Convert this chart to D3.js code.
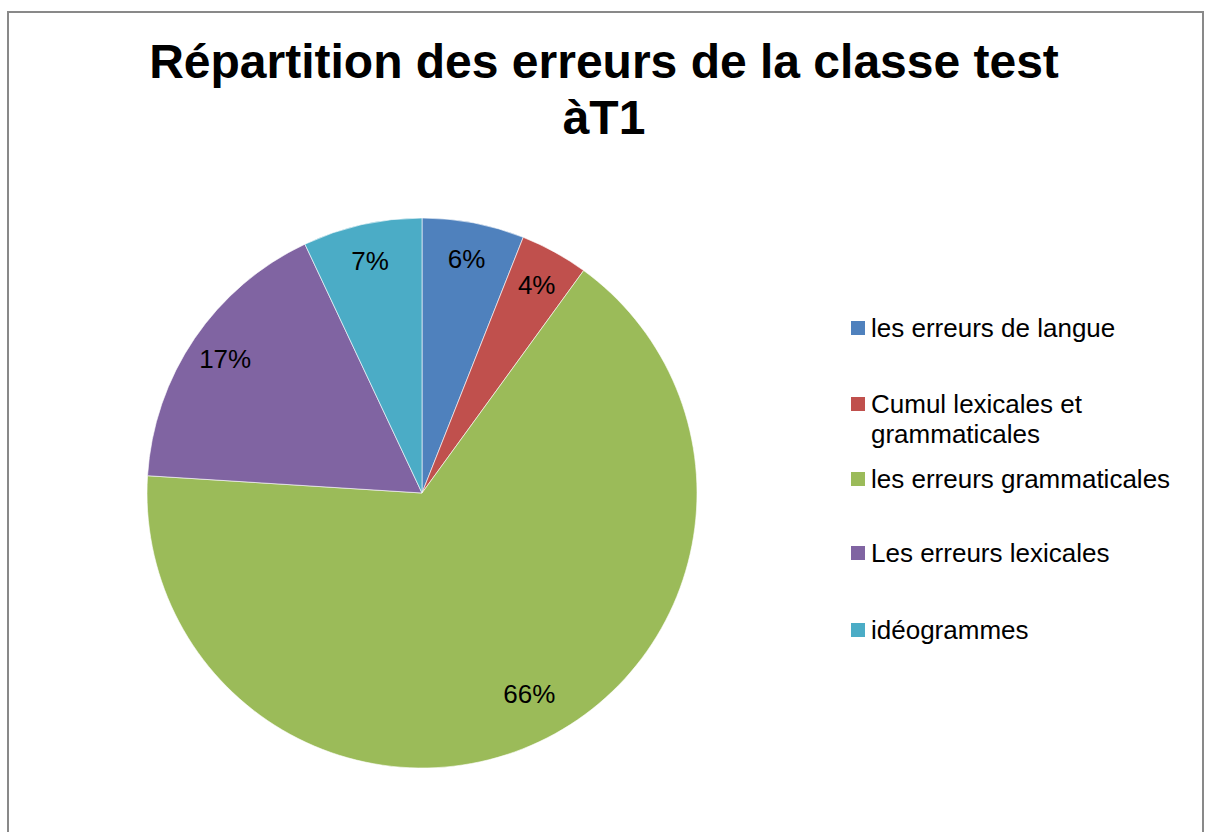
<!DOCTYPE html>
<html>
<head>
<meta charset="utf-8">
<script src="https://cdn.jsdelivr.net/npm/d3@7"></script>
<style>
  body { margin: 0; background: #fff; }
  svg { display: block; font-family: "Liberation Sans", Arial, sans-serif; }
</style>
</head>
<body>
<svg id="chart" width="1206" height="832"></svg>
<script>
// chart data
const categories = ["les erreurs de langue", "Cumul lexicales et grammaticales", "les erreurs grammaticales", "Les erreurs lexicales", "idéogrammes"]
const legendLines = [["les erreurs de langue"], ["Cumul lexicales et", "grammaticales"], ["les erreurs grammaticales"], ["Les erreurs lexicales"], ["idéogrammes"]]
const values = [6, 4, 66, 17, 7]
const colors = ["#4F81BD", "#C0504D", "#9BBB59", "#8064A2", "#4BACC6"]
const titleLines = ["Répartition des erreurs de la classe test", "àT1"]

const svg = d3.select("#chart")

// frame (bottom edge runs off the picture)
svg.append("path")
  .attr("d", "M8,840V12H1203V840")
  .attr("fill", "none")
  .attr("stroke", "#898989")
  .attr("stroke-width", 2)

svg.append("g").selectAll("text")
  .data(titleLines)
  .join("text")
  .attr("x", 604)
  .attr("y", (d, i) => 78 + i * 56)
  .attr("text-anchor", "middle")
  .attr("font-size", 48)
  .attr("font-weight", "bold")
  .text(d => d)

const cx = 422, cy = 493, r = 275

const pie = d3.pie().sort(null).value(d => d)
const arcs = pie(values)
const arc = d3.arc().innerRadius(0).outerRadius(r)
const total = d3.sum(values)

const g = svg.append("g").attr("transform", `translate(${cx},${cy})`)

g.selectAll("path")
  .data(arcs)
  .join("path")
  .attr("d", arc)
  .attr("fill", (d, i) => colors[i])
  .attr("stroke", "#fff")
  .attr("stroke-opacity", 0.6)
  .attr("stroke-width", 1)

// labels sit inside the slice, big slice a bit further in
g.selectAll("text")
  .data(arcs)
  .join("text")
  .attr("transform", d => {
    const a = (d.startAngle + d.endAngle) / 2 - (d.value > 50 ? 0.05 : 0)
    const lr = d.value > 50 ? 228 : 238
    return `translate(${Math.sin(a) * lr},${-Math.cos(a) * lr})`
  })
  .attr("text-anchor", "middle")
  .attr("dy", "0.35em")
  .attr("font-size", 26)
  .text(d => Math.round(d.value / total * 100) + "%")

// legend
const legendY = [328, 404, 479, 553, 630]
const legend = svg.append("g")
const items = legend.selectAll("g")
  .data(categories)
  .join("g")
  .attr("transform", (d, i) => `translate(851,${legendY[i]})`)

items.append("rect")
  .attr("x", 0)
  .attr("y", -7)
  .attr("width", 14)
  .attr("height", 14)
  .attr("fill", (d, i) => colors[i])

items.append("text")
  .attr("x", 20)
  .attr("font-size", 26)
  .selectAll("tspan")
  .data((d, i) => legendLines[i])
  .join("tspan")
  .attr("x", 20)
  .attr("y", (d, j) => 9 + j * 30)
  .text(d => d)
</script>
</body>
</html>
